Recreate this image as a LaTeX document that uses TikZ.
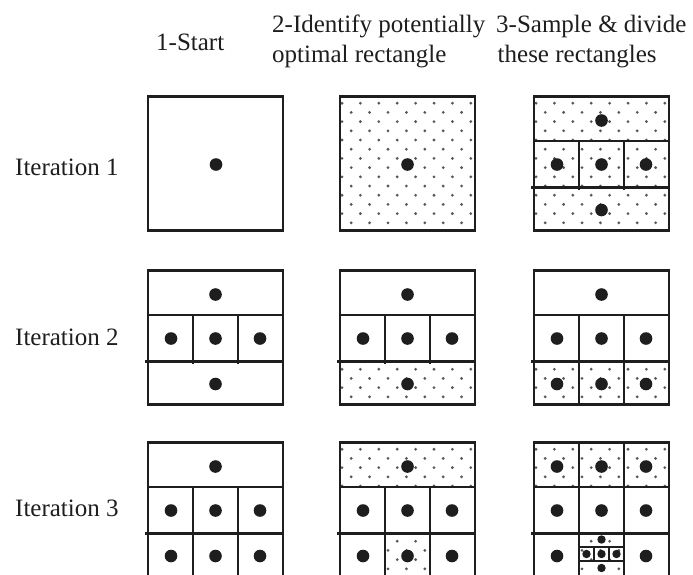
\documentclass[tikz,border=0pt]{standalone}
\usepackage{fontspec}
\setmainfont{Liberation Serif}
\definecolor{ink}{HTML}{1E1E1E}
\definecolor{patcol}{HTML}{585858}
\tikzset{
  frame/.style={draw=ink, line width=2.8pt},
  divline/.style={draw=ink, line width=2.4pt},
  bigdot/.style={fill=ink},
  lbl/.style={anchor=base west, inner sep=0pt, text=ink, font=\fontsize{25}{30}\selectfont},
}
% lattice of grey points, anchored at box (L,T), clipped to region
\newcommand{\patregion}[6]{%
  \begin{scope}
    \clip (#3,#4) rectangle (#5,#6);
    \foreach \i in {0,...,14}{\foreach \j in {0,...,14}{%
      \pgfmathtruncatemacro{\kk}{\i+\j}%
      \ifodd\kk\relax\else
        \fill[patcol] ({#1+2+9.2*\i},{#2+6.7+9.2*\j}) circle[radius=1.55pt];
      \fi}}
  \end{scope}}
\newcommand{\bd}[2]{\fill[bigdot] (#1,#2) circle[radius=6.3pt];}
\newcommand{\sd}[2]{\fill[bigdot] (#1,#2) circle[radius=4.2pt];}
\newcommand{\hlines}[2]{%
  \draw[divline] (#1,{#2+44.5}) -- ({#1+135},{#2+44.5});
  \draw[divline] ({#1-3},{#2+91}) -- ({#1+135},{#2+91});}
\newcommand{\vmidband}[2]{%
  \draw[divline] ({#1+45},{#2+44.5}) -- ({#1+45},{#2+93});
  \draw[divline] ({#1+90},{#2+44.5}) -- ({#1+90},{#2+93});}
\newcommand{\vbotband}[2]{%
  \draw[divline] ({#1+45},{#2+91}) -- ({#1+45},{#2+134});
  \draw[divline] ({#1+90},{#2+91}) -- ({#1+90},{#2+134});}
\newcommand{\vtopband}[2]{%
  \draw[divline] ({#1+45},{#2}) -- ({#1+45},{#2+44.5});
  \draw[divline] ({#1+90},{#2}) -- ({#1+90},{#2+44.5});}
\begin{document}
\begin{tikzpicture}[x=1pt,y=-1pt]
\useasboundingbox (0,0) rectangle (693,574);
\clip (0,0) rectangle (693,574);
\fill[white] (0,0) rectangle (693,574);

% headers
\node[lbl] (h1) at (156,50) {1-Start};
\node[lbl] (h2a) at (272,32) {2-Identify potentially};
\node[lbl] (h2b) at (272,62) {optimal rectangle};
\node[lbl] (h3a) at (496,32) {3-Sample \& divide};
\node[lbl] (h3b) at (497.5,62) {these rectangles};
\node[lbl] (it1) at (15,175.5) {Iteration 1};
\node[lbl] (it2) at (15,345) {Iteration 2};
\node[lbl] (it3) at (15,516.5) {Iteration 3};

% ---------- Row 1 (T=96.5)
\draw[frame] (148,96.5) rectangle (283,230.5);
\bd{216}{164.5}
\patregion{340}{96.5}{340}{96.5}{475}{230.5}
\draw[frame] (340,96.5) rectangle (475,230.5);
\bd{407.5}{164.5}
\patregion{534}{96.5}{534}{96.5}{669}{230.5}
\hlines{534}{96.5}
\vmidband{534}{96.5}
\draw[frame] (534,96.5) rectangle (669,230.5);
\bd{601.5}{120.5}
\bd{557}{164.5}\bd{601.5}{164.5}\bd{646}{164.5}
\bd{601.5}{210}

% ---------- Row 2 (T=270.5)
\hlines{148}{270.5}
\vmidband{148}{270.5}
\draw[frame] (148,270.5) rectangle (283,404.5);
\bd{215.5}{294.5}
\bd{171}{338.5}\bd{215.5}{338.5}\bd{260}{338.5}
\bd{215.5}{384}
\patregion{340}{270.5}{340}{361.5}{475}{404.5}
\hlines{340}{270.5}
\vmidband{340}{270.5}
\draw[frame] (340,270.5) rectangle (475,404.5);
\bd{407.5}{294.5}
\bd{363}{338.5}\bd{407.5}{338.5}\bd{452}{338.5}
\bd{407.5}{384}
\patregion{534}{270.5}{534}{361.5}{669}{404.5}
\hlines{534}{270.5}
\vmidband{534}{270.5}
\vbotband{534}{270.5}
\draw[frame] (534,270.5) rectangle (669,404.5);
\bd{601.5}{294.5}
\bd{557}{338.5}\bd{601.5}{338.5}\bd{646}{338.5}
\bd{557}{384}\bd{601.5}{384}\bd{646}{384}

% ---------- Row 3 (T=442.5)
\hlines{148}{442.5}
\vmidband{148}{442.5}
\vbotband{148}{442.5}
\draw[frame] (148,442.5) rectangle (283,576.5);
\bd{215.5}{466.5}
\bd{171}{510.5}\bd{215.5}{510.5}\bd{260}{510.5}
\bd{171}{556}\bd{215.5}{556}\bd{260}{556}
\patregion{340}{442.5}{340}{442.5}{475}{487}
\patregion{340}{442.5}{385}{533.5}{430}{576.5}
\hlines{340}{442.5}
\vmidband{340}{442.5}
\vbotband{340}{442.5}
\draw[frame] (340,442.5) rectangle (475,576.5);
\bd{407.5}{466.5}
\bd{363}{510.5}\bd{407.5}{510.5}\bd{452}{510.5}
\bd{363}{556}\bd{407.5}{556}\bd{452}{556}
\patregion{534}{442.5}{534}{442.5}{669}{487}
\patregion{534}{442.5}{579}{533.5}{624}{576.5}
\hlines{534}{442.5}
\vtopband{534}{442.5}
\vmidband{534}{442.5}
\vbotband{534}{442.5}
\draw[frame] (534,442.5) rectangle (669,576.5);
\bd{557}{466.5}\bd{601.5}{466.5}\bd{646}{466.5}
\bd{557}{510.5}\bd{601.5}{510.5}\bd{646}{510.5}
\bd{557}{556}\bd{646}{556}
% subdivided cell
\draw[divline, line width=2pt] (579,547) rectangle (624,561);
\draw[divline, line width=2pt] (594,547) -- (594,561);
\draw[divline, line width=2pt] (609,547) -- (609,561);
\sd{586.5}{554}\sd{601.5}{554}\sd{616.5}{554}
\sd{601.5}{539.5}
\sd{601.5}{568}
\end{tikzpicture}
\end{document}
